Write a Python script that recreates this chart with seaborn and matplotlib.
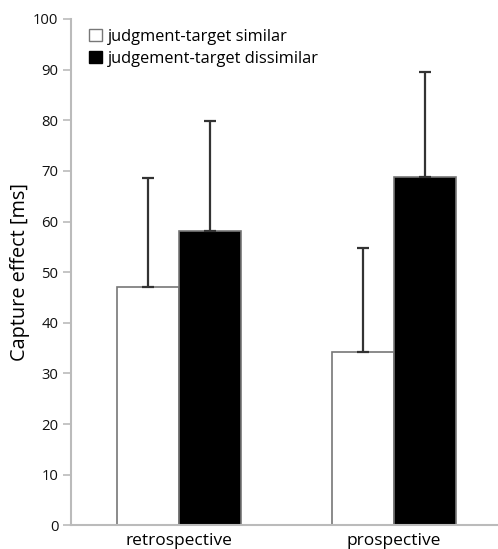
import matplotlib
matplotlib.use("Agg")
import matplotlib.pyplot as plt
import seaborn as sns
import pandas as pd
from matplotlib.patches import Patch

conditions = ["retrospective", "prospective"]
groups = ["judgment-target similar", "judgement-target dissimilar"]
similar_means = [47.1, 34.3]
dissimilar_means = [58.1, 68.7]
similar_err = [21.4, 20.4]
dissimilar_err = [21.7, 20.9]
yticks = [0, 10, 20, 30, 40, 50, 60, 70, 80, 90, 100]

df = pd.DataFrame({
    "condition": conditions * 2,
    "group": [groups[0]] * 2 + [groups[1]] * 2,
    "value": similar_means + dissimilar_means,
})

sns.set_theme(style="white")
plt.rcParams["font.family"] = ["Open Sans", "DejaVu Sans"]

fig = plt.figure(figsize=(4.98, 5.49), dpi=100)
ax = fig.add_axes([71/498, 1 - 525.3/549, 1 - 71/498, (525.3 - 19)/549])

sns.barplot(data=df, x="condition", y="value", hue="group", order=conditions,
            hue_order=groups, palette=["white", "black"], width=0.577,
            edgecolor="#777777", linewidth=1.2, errorbar=None, ax=ax, legend=False)

# error bars (upward only)
errs = {groups[0]: similar_err, groups[1]: dissimilar_err}
means = {groups[0]: similar_means, groups[1]: dissimilar_means}
patches = ax.patches
for gi, g in enumerate(groups):
    for ci in range(len(conditions)):
        p = patches[gi * len(conditions) + ci]
        xc = p.get_x() + p.get_width() / 2
        ax.errorbar([xc], [means[g][ci]], yerr=[[0], [errs[g][ci]]], fmt="none",
                    ecolor="#333333", elinewidth=1.6, capsize=4, capthick=1.6, zorder=1)

ax.set_ylim(0, 100)
ax.set_xlim(-0.5, 1.484)
ax.set_yticks(yticks)
ax.set_yticklabels([str(t) for t in yticks], fontsize=10.7, color="#111111")
ax.tick_params(axis="y", which="both", left=True, length=6, width=1.2, color="#bbbbbb", pad=3)
ax.tick_params(axis="x", bottom=False, labelsize=12.5, labelcolor="#000000", pad=-0.5)
ax.set_xlabel("")
ax.set_ylabel("Capture effect [ms]", fontsize=14.3, color="#000000", labelpad=2.5)

for s in ["top", "right"]:
    ax.spines[s].set_visible(False)
for s in ["left", "bottom"]:
    ax.spines[s].set_color("#bbbbbb")
    ax.spines[s].set_linewidth(1.5)

handles = [Patch(facecolor="white", edgecolor="#777777", linewidth=1.0),
           Patch(facecolor="black", edgecolor="black")]
ax.legend(handles, groups, loc="upper left", bbox_to_anchor=(0.018, 1.0),
          frameon=False, fontsize=11.8, handlelength=0.8, handleheight=0.8,
          handletextpad=0.4, labelspacing=0.36, borderaxespad=0.2,
          labelcolor="#000000")

fig.savefig("out.png", dpi=100)
